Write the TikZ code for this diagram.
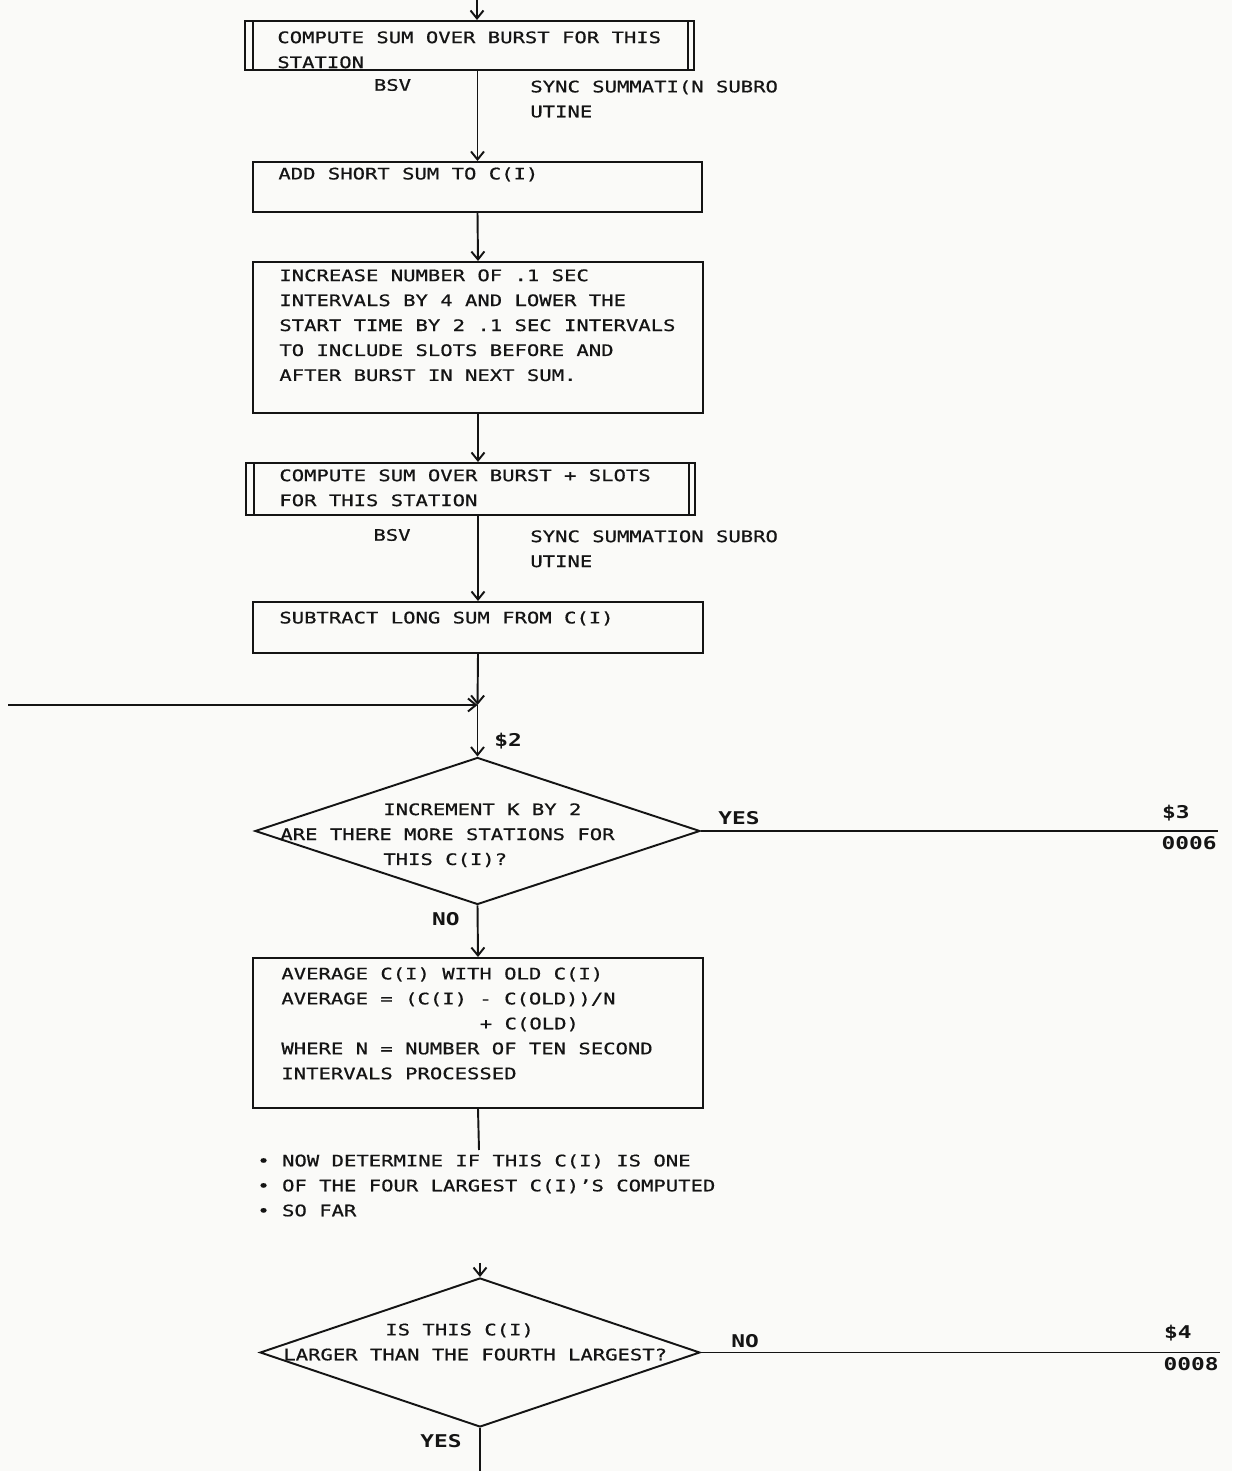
\documentclass[tikz,border=0pt]{standalone}
\usepackage{fontspec}
\setmainfont{DejaVu Sans Mono}[FakeStretch=1.3, UprightFeatures={FakeBold=0.7}]
\usetikzlibrary{arrows.meta,shapes.geometric}
\definecolor{inkgray}{RGB}{20,20,20}
\definecolor{paper}{RGB}{250,250,248}
\tikzset{
  flow/.style={-{Straight Barb[length=1.6mm,width=2.6mm]}, line width=1.1pt, draw=inkgray},
  link/.style={line width=1.1pt, draw=inkgray},
  procbox/.style={
    draw=inkgray, line width=1.1pt, inner sep=0pt,
    minimum width=9.0cm, minimum height=1.0cm
  },
  decision/.style={
    diamond, draw=inkgray, line width=1.1pt, inner sep=0pt,
    minimum width=8.9cm, minimum height=2.94cm
  },
  boxtext/.style={anchor=north west, align=left, inner sep=0pt, text=inkgray},
  tag/.style={inner sep=0pt, text=inkgray, font=\bfseries}
}

\begin{document}
\begin{tikzpicture}[font=\fontsize{9}{14.2}\selectfont]

\useasboundingbox (0,0) rectangle (24.64,29.42);
\fill[paper] (0,0) rectangle (24.64,29.42);

%--------------------------------------------------
% Short sum over the burst
%--------------------------------------------------
\node[procbox, minimum width=8.98cm, minimum height=0.98cm] (sumburst) at (9.39,28.51) {};
\node[boxtext] at ([xshift=0.66cm,yshift=-0.22cm]sumburst.north west)
{COMPUTE SUM OVER BURST FOR THIS\\STATION};

\node[text=inkgray, inner sep=0pt] at (7.85,27.72) {BSV};
\node[boxtext] at (10.60,27.82) {SYNC SUMMATI(N SUBRO\\UTINE};

\node[procbox, minimum width=8.98cm] (addshort) at (9.55,25.68) {};
\node[boxtext] at ([xshift=0.52cm,yshift=-0.12cm]addshort.north west)
{ADD SHORT SUM TO C(I)};

\node[procbox, minimum height=3.02cm] (widen) at (9.56,22.67) {};
\node[boxtext] at ([xshift=0.54cm,yshift=-0.16cm]widen.north west)
{INCREASE NUMBER OF .1 SEC\\
INTERVALS BY 4 AND LOWER THE\\
START TIME BY 2 .1 SEC INTERVALS\\
TO INCLUDE SLOTS BEFORE AND\\
AFTER BURST IN NEXT SUM.};

%--------------------------------------------------
% Long sum over burst + slots
%--------------------------------------------------
\node[procbox, minimum width=8.98cm, minimum height=1.04cm] (sumslots) at (9.41,19.64) {};
\node[boxtext] at ([xshift=0.68cm,yshift=-0.14cm]sumslots.north west)
{COMPUTE SUM OVER BURST + SLOTS\\FOR THIS STATION};

\node[text=inkgray, inner sep=0pt] at (7.84,18.72) {BSV};
\node[boxtext] at (10.60,18.82) {SYNC SUMMATION SUBRO\\UTINE};

% double sides of the subroutine boxes
\foreach \n in {sumburst,sumslots} {
  \draw[link] ([xshift=0.18cm]\n.north west) -- ([xshift=0.18cm]\n.south west);
  \draw[link] ([xshift=-0.14cm]\n.north east) -- ([xshift=-0.14cm]\n.south east);
}

\node[procbox, minimum height=1.02cm] (subtract) at (9.56,16.87) {};
\node[boxtext] at ([xshift=0.54cm,yshift=-0.2cm]subtract.north west)
{SUBTRACT LONG SUM FROM C(I)};

%--------------------------------------------------
% Loop back and station test
%--------------------------------------------------
\coordinate (merge) at (9.55,15.32);
\coordinate (loopin) at (0.16,15.32);

\node[decision] (moreq) at (9.55,12.80) {};
\node[boxtext] at (5.60,13.36)
{\hspace*{2.06cm}INCREMENT K BY 2\\
ARE THERE MORE STATIONS FOR\\
\hspace*{2.06cm}THIS C(I)?};

\node[tag, anchor=south west] at ([xshift=0.33cm,yshift=0.15cm]moreq.north) {\$2};
\node[tag, anchor=south west] at ([xshift=0.34cm,yshift=0.12cm]moreq.east) {YES};
\node[tag, anchor=north east] at ([xshift=-0.35cm,yshift=-0.14cm]moreq.south) {NO};

\coordinate (yesend) at (24.36,12.80);
\node[tag, anchor=base east] at ([xshift=-0.56cm,yshift=0.24cm]yesend) {\$3};
\node[tag, anchor=north east] at ([xshift=-0.02cm,yshift=-0.1cm]yesend) {0006};

%--------------------------------------------------
% Running average
%--------------------------------------------------
\node[procbox, minimum height=3.0cm] (average) at (9.56,8.76) {};
\node[boxtext] at ([xshift=0.58cm,yshift=-0.2cm]average.north west)
{AVERAGE C(I) WITH OLD C(I)\\
AVERAGE = (C(I) - C(OLD))/N\\
\hspace*{3.97cm}+ C(OLD)\\
WHERE N = NUMBER OF TEN SECOND\\
INTERVALS PROCESSED};

\coordinate (avgend) at (9.58,6.42);

\node[boxtext] (comment) at (5.14,6.34)
{\textbullet\ NOW DETERMINE IF THIS C(I) IS ONE\\
\textbullet\ OF THE FOUR LARGEST C(I)'S COMPUTED\\
\textbullet\ SO FAR};

%--------------------------------------------------
% Four largest test
%--------------------------------------------------
\coordinate (largerin) at (9.60,4.16);
\node[decision, minimum width=8.8cm, minimum height=2.98cm] (largerq) at (9.60,2.37) {};
\node[boxtext] at (5.66,2.96)
{\hspace*{2.04cm}IS THIS C(I)\\
LARGER THAN THE FOURTH LARGEST?};

\node[tag, anchor=south west] at ([xshift=0.6cm,yshift=0.08cm]largerq.east) {NO};
\node[tag, anchor=north east] at ([xshift=-0.36cm,yshift=-0.12cm]largerq.south) {YES};

\coordinate (noend) at (24.40,2.37);
\node[tag, anchor=base east] at ([xshift=-0.56cm,yshift=0.28cm]noend) {\$4};
\node[tag, anchor=north east] at ([xshift=-0.02cm,yshift=-0.1cm]noend) {0008};

\coordinate (exitpt) at (9.60,0);

%--------------------------------------------------
% Connectors
%--------------------------------------------------
\coordinate (entry) at (9.54,29.42);
\draw[flow] (entry) -- (entry |- sumburst.north);
\draw[flow] (sumburst.south -| addshort.north) -- (addshort.north);
\draw[flow] (addshort.south) -- (widen.north);
\draw[flow] (widen.south) -- (widen.south |- sumslots.north);
\draw[flow] (sumslots.south -| subtract.north) -- (subtract.north);
\draw[flow] (subtract.south) -- (merge);
\draw[flow] (loopin) -- (merge);
\draw[flow] (merge) -- (moreq.north);
\draw[link] (moreq.east) -- (yesend);
\draw[flow] (moreq.south) -- (average.north);
\draw[link] (average.south) -- (avgend);
\draw[flow] (largerin) -- (largerq.north);
\draw[link] (largerq.east) -- (noend);
\draw[link] (largerq.south) -- (exitpt);

\end{tikzpicture}
\end{document}
